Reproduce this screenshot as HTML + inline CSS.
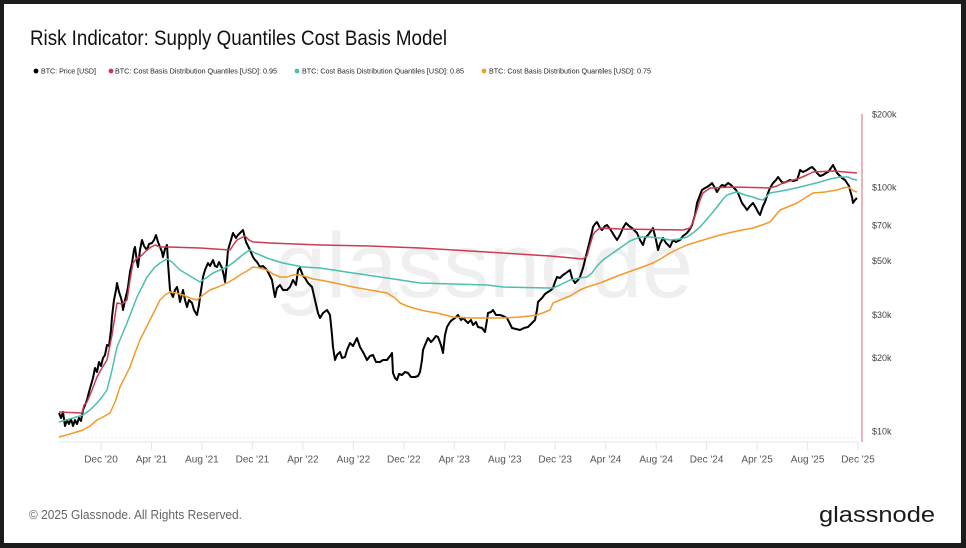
<!DOCTYPE html>
<html><head><meta charset="utf-8"><style>
html,body{margin:0;padding:0;background:#1c1c1c;}
svg{display:block;}
text{font-family:"Liberation Sans",sans-serif;}
</style></head><body>
<svg width="966" height="548" viewBox="0 0 966 548" xmlns="http://www.w3.org/2000/svg">
<rect x="0" y="0" width="966" height="548" fill="#1c1c1c"/>
<rect x="4" y="4" width="957" height="539" fill="#ffffff"/>

<text x="30" y="45" font-size="21" fill="#111" textLength="417" lengthAdjust="spacingAndGlyphs">Risk Indicator: Supply Quantiles Cost Basis Model</text>

<circle cx="36" cy="71" r="2.4" fill="#000"/>
<text x="41" y="73.5" font-size="7" fill="#222" textLength="55" lengthAdjust="spacingAndGlyphs">BTC: Price [USD]</text>
<circle cx="111" cy="71" r="2.4" fill="#cc3b54"/>
<text x="115" y="73.5" font-size="7" fill="#222" textLength="162" lengthAdjust="spacingAndGlyphs">BTC: Cost Basis Distribution Quantiles [USD]: 0.95</text>
<circle cx="297" cy="71" r="2.4" fill="#4cbfae"/>
<text x="302" y="73.5" font-size="7" fill="#222" textLength="162" lengthAdjust="spacingAndGlyphs">BTC: Cost Basis Distribution Quantiles [USD]: 0.85</text>
<circle cx="484" cy="71" r="2.4" fill="#f49a2a"/>
<text x="489" y="73.5" font-size="7" fill="#222" textLength="162" lengthAdjust="spacingAndGlyphs">BTC: Cost Basis Distribution Quantiles [USD]: 0.75</text>

<!-- watermark -->
<text x="275" y="297" font-size="92" fill="#efefef" textLength="418" lengthAdjust="spacingAndGlyphs">glassnode</text>

<!-- axes -->
<line x1="59" y1="438" x2="858" y2="438" stroke="#eeeeee" stroke-width="1" stroke-dasharray="2,2"/>
<line x1="59" y1="442" x2="858" y2="442" stroke="#e6e6e6" stroke-width="1"/>
<g stroke="#e6e6e6" stroke-width="1">
<line x1="101" y1="442" x2="101" y2="450"/><line x1="151.5" y1="442" x2="151.5" y2="450"/><line x1="201.9" y1="442" x2="201.9" y2="450"/><line x1="252.4" y1="442" x2="252.4" y2="450"/><line x1="302.9" y1="442" x2="302.9" y2="450"/><line x1="353.4" y1="442" x2="353.4" y2="450"/><line x1="403.8" y1="442" x2="403.8" y2="450"/><line x1="454.3" y1="442" x2="454.3" y2="450"/><line x1="504.8" y1="442" x2="504.8" y2="450"/><line x1="555.2" y1="442" x2="555.2" y2="450"/><line x1="605.7" y1="442" x2="605.7" y2="450"/><line x1="656.2" y1="442" x2="656.2" y2="450"/><line x1="706.6" y1="442" x2="706.6" y2="450"/><line x1="757.1" y1="442" x2="757.1" y2="450"/><line x1="807.6" y1="442" x2="807.6" y2="450"/><line x1="858" y1="442" x2="858" y2="450"/>
</g>
<g font-size="10" fill="#555" text-anchor="middle">
<text x="101" y="462.5">Dec '20</text><text x="151.5" y="462.5">Apr '21</text><text x="201.9" y="462.5">Aug '21</text><text x="252.4" y="462.5">Dec '21</text><text x="302.9" y="462.5">Apr '22</text><text x="353.4" y="462.5">Aug '22</text><text x="403.8" y="462.5">Dec '22</text><text x="454.3" y="462.5">Apr '23</text><text x="504.8" y="462.5">Aug '23</text><text x="555.2" y="462.5">Dec '23</text><text x="605.7" y="462.5">Apr '24</text><text x="656.2" y="462.5">Aug '24</text><text x="706.6" y="462.5">Dec '24</text><text x="757.1" y="462.5">Apr '25</text><text x="807.6" y="462.5">Aug '25</text><text x="858" y="462.5">Dec '25</text>
</g>

<line x1="862" y1="114" x2="862" y2="442" stroke="#d4687a" stroke-width="1"/>
<g font-size="9" fill="#444">
<text x="872" y="117.3">$200k</text>
<text x="872" y="190.7">$100k</text>
<text x="872" y="228.4">$70k</text>
<text x="872" y="264.1">$50k</text>
<text x="872" y="318.1">$30k</text>
<text x="872" y="361">$20k</text>
<text x="872" y="434.3">$10k</text>
</g>

<!-- price -->
<polyline fill="none" stroke="#000" stroke-width="2" stroke-linejoin="round" points="59,413 61,418 63,412 65,426 67,420 69,424 71,419 73,426 75,420 77,424 79,418 81,421 83,410 85,405 87,400 89,392 91,385 93,378 95,368 97,372 99,362 101,366 103,358 105,355 107,345 109,346 111,330 112,317 114,300 116,290 117,283 119,292 121,298 122,302 123,310 125,300 127,292 128,287 130,272 132,263 134,250 135,247 137,262 138,267 140,250 142,240 144,246 147,250 149,244 152,243 154,240 156,235 158,242 160,247 162,252 163,257 165,249 167,245 168,263 170,290 172,295 173,297 175,290 177,287 179,296 180,302 182,294 183,290 185,300 187,307 189,300 192,303 194,310 197,315 199,305 200,297 202,284 203,277 205,270 208,263 210,266 213,260 215,266 217,267 219,262 222,268 224,276 225,282 227,262 228,250 231,240 233,233 236,238 238,235 240,233 243,230 245,238 246,242 248,246 250,250 253,257 255,260 257,262 260,267 263,266 267,270 270,276 272,280 274,292 275,297 277,288 280,285 283,290 287,290 290,287 293,280 296,285 298,270 300,268 303,276 305,278 308,283 312,287 315,300 318,313 320,318 323,313 327,310 330,315 332,335 333,347 335,360 337,355 340,352 342,358 345,357 347,350 350,343 353,346 357,338 360,347 363,352 367,360 370,356 373,355 376,362 380,362 383,360 387,360 390,356 392,353 393,373 395,378 397,380 399,374 402,375 405,372 408,373 411,377 415,377 418,376 420,372 422,360 423,350 425,345 428,338 431,342 433,340 436,336 438,337 441,345 443,353 445,335 447,327 450,322 452,320 455,318 458,315 461,320 463,318 466,321 468,323 471,320 473,325 476,322 478,327 482,328 485,332 487,320 488,313 491,312 493,310 496,315 500,315 503,316 507,318 510,324 512,328 516,329 520,330 524,328 528,327 532,323 535,320 537,310 538,302 540,300 542,298 545,294 548,292 551,290 553,288 555,282 557,277 560,278 563,275 566,273 570,270 572,278 575,283 578,280 580,277 583,268 585,260 588,248 590,240 592,232 593,227 595,224 597,222 600,228 602,230 605,226 607,225 610,229 612,232 615,237 617,240 620,235 623,228 626,223 629,226 632,228 635,231 637,233 640,240 643,245 645,238 648,235 651,231 653,228 656,240 658,250 660,244 663,238 666,243 670,247 673,240 676,242 680,240 683,236 687,233 690,229 692,225 695,215 697,203 700,195 702,190 705,188 707,187 710,185 712,183 715,188 717,192 720,187 722,185 725,186 728,183 731,185 733,187 736,190 738,193 740,198 742,203 745,207 747,210 750,206 753,203 756,208 758,212 760,215 763,206 765,202 768,193 770,188 773,183 776,180 778,177 781,181 783,183 786,182 790,180 793,181 797,180 799,174 800,170 803,172 807,170 810,168 812,167 815,170 817,173 820,176 823,175 826,173 828,172 831,168 833,165 835,169 837,173 840,176 842,178 845,180 847,183 849,186 850,190 852,197 853,203 855,200 857,198"/>

<!-- 0.95 -->
<polyline fill="none" stroke="#cc3b54" stroke-width="1.5" stroke-linejoin="round" points="59,412 82,413 84,405 87,402 92,390 97,377 102,368 107,360 112,335 117,303 122,304 127,300 130,280 133,263 137,258 140,257 144,253 147,250 151,247 155,245 160,247 168,247 200,248 230,250 234,244 237,240 241,238 245,236 249,240 253,242 270,243 320,245 370,246 420,248 487,252 550,256 583,259 587,256 590,245 593,235 595,232 600,228 620,229 683,230 690,228 693,222 697,210 700,200 703,193 710,188 733,187 770,188 777,186 783,183 790,181 800,178 807,175 813,172 833,171 857,173"/>

<!-- 0.85 -->
<polyline fill="none" stroke="#4cbfae" stroke-width="1.5" stroke-linejoin="round" points="59,422 73,418 83,415 90,410 97,403 102,397 107,390 112,370 117,347 122,335 127,323 132,310 137,297 142,287 147,277 151,272 155,267 160,263 167,259 172,262 180,270 190,276 200,282 206,278 213,273 220,270 227,267 234,262 240,257 245,253 250,250 255,253 260,255 267,258 273,260 283,263 293,265 303,267 320,268 353,273 387,278 420,283 453,284 487,285 503,287 547,288 553,288 560,285 570,280 580,278 587,277 592,273 597,266 603,260 610,255 620,248 630,241 640,237 650,237 660,238 670,240 680,239 687,237 693,233 700,227 707,219 713,212 717,207 720,203 724,198 727,195 733,193 737,192 745,195 753,197 758,199 763,200 767,196 770,193 787,190 800,187 820,182 830,179 840,177 848,177 852,179 857,180"/>

<!-- 0.75 -->
<polyline fill="none" stroke="#f49a2a" stroke-width="1.5" stroke-linejoin="round" points="59,437 70,434 83,430 90,426 97,420 103,417 110,413 115,402 120,387 125,377 130,367 135,353 140,340 145,330 150,320 155,310 160,300 165,295 170,292 176,293 183,295 190,298 197,300 203,295 210,290 218,287 227,283 234,279 240,275 247,271 253,267 260,268 267,270 273,274 280,277 287,277 293,275 300,275 307,277 313,279 320,280 335,283 353,287 370,290 387,293 395,298 400,303 407,306 413,308 425,311 437,313 453,317 470,318 487,318 503,318 520,317 530,316 537,315 545,312 550,310 553,303 560,300 570,296 580,290 587,287 600,283 610,279 620,275 637,269 653,263 662,258 670,253 678,249 687,245 700,241 710,238 720,235 737,231 753,228 762,225 770,222 775,216 780,210 790,206 797,203 805,198 813,193 825,192 837,190 843,188 848,187 851,189 854,191 857,192"/>

<!-- footer -->
<text x="29" y="519" font-size="12.5" fill="#666" textLength="213" lengthAdjust="spacingAndGlyphs">© 2025 Glassnode. All Rights Reserved.</text>
<text x="819" y="522" font-size="22" fill="#1a1a1a" textLength="116" lengthAdjust="spacingAndGlyphs">glassnode</text>
</svg>
</body></html>
